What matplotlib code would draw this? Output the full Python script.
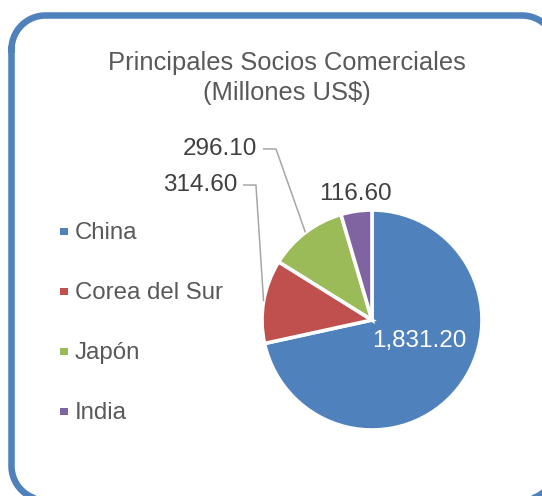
import matplotlib
matplotlib.use("Agg")
import matplotlib.pyplot as plt
import numpy as np
from matplotlib.patches import Rectangle
from matplotlib.transforms import Bbox

plt.rcParams["font.family"] = ["Liberation Sans", "DejaVu Sans"]

# trade partners, millions of US$
partners = ["China", "Corea del Sur", "Japón", "India"]
values = [1831.20, 314.60, 296.10, 116.60]
colors = ["#4F81BD", "#C0504D", "#9BBB59", "#8064A2"]

TEXT = "#595959"
LABEL = "#404040"
W, H = 542, 496

fig = plt.figure(figsize=(W / 100, H / 100), dpi=100)

# background axes laid out in pixels (y down), holds frame, title and legend
bg = fig.add_axes([0, 0, 1, 1])
bg.set_xlim(0, W)
bg.set_ylim(H, 0)
bg.set_axis_off()


def rounded_rect(x0, y0, x1, y1, rad, n=30):
    # corner centres, clockwise from top-left (y axis points down)
    corners = [(x0 + rad, y0 + rad, 180, 270), (x1 - rad, y0 + rad, 270, 360),
               (x1 - rad, y1 - rad, 0, 90), (x0 + rad, y1 - rad, 90, 180)]
    xs, ys = [], []
    for ccx, ccy, a0, a1 in corners:
        t = np.deg2rad(np.linspace(a0, a1, n))
        xs.extend(ccx + rad * np.cos(t))
        ys.extend(ccy + rad * np.sin(t))
    xs.append(xs[0])
    ys.append(ys[0])
    return xs, ys


fx, fy = rounded_rect(11.5, 15.5, 556, 500, 34)
bg.plot(fx, fy, color="#4F81BD", lw=4.7, solid_joinstyle="round")

bg.text(287, 70, "Principales Socios Comerciales", ha="center", va="baseline",
        fontsize=18.4, color=TEXT)
bg.text(287, 100, "(Millones US$)", ha="center", va="baseline",
        fontsize=18.4, color=TEXT)

for i, (name, c) in enumerate(zip(partners, colors)):
    base = 239.3 + i * 60
    bg.add_patch(Rectangle((60, base - 11), 8, 7, facecolor=c, edgecolor="none"))
    bg.text(75, base, name, ha="left", va="baseline", fontsize=17.3, color=TEXT)

# pie axes: centre (372, 320), radius 110 px
cx, cy, r = 372, 320, 110
ax = fig.add_axes([(cx - r) / W, 1 - (cy + r) / H, 2 * r / W, 2 * r / H])
wedges, _ = ax.pie(values, colors=colors, startangle=90, counterclock=False,
                   wedgeprops=dict(edgecolor="white", linewidth=2.6))
ax.set_xlim(-1, 1)
ax.set_ylim(-1, 1)
ax.set_aspect("equal")
ax.set_axis_off()


def edge_point(w):
    a = np.deg2rad((w.theta1 + w.theta2) / 2)
    return np.cos(a), np.sin(a)


def fmt(v):
    return f"{v:,.2f}"


# China: inside label
ax.text(0.43, -0.19, fmt(values[0]), ha="center", va="center",
        fontsize=17.5, color="white")

# Corea del Sur and Japón: labels with leader lines
for idx, (knee_x, y, end_x) in zip([1, 2], [(-1.055, 1.227, -1.173),
                                             (-0.873, 1.555, -0.991)]):
    px, py = edge_point(wedges[idx])
    ax.plot([px, knee_x, end_x], [py, y, y], color="#A6A6A6", lw=1.1,
            clip_on=False, solid_capstyle="butt")
    ax.text(end_x - 0.05, y, fmt(values[idx]), ha="right", va="center",
            fontsize=17.5, color=LABEL)

# India: label just outside the wedge
ax.text(-0.155, 1.15, fmt(values[3]), ha="center", va="center",
        fontsize=17.5, color=LABEL)

fig.savefig("out.png", dpi=100, bbox_inches=Bbox([[0, 0], [W / 100, H / 100]]))
